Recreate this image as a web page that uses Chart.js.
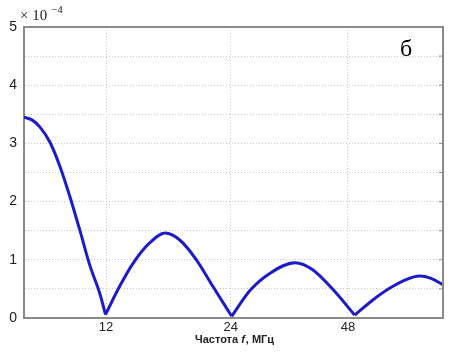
<!DOCTYPE html>
<html>
<head>
<meta charset="utf-8">
<script src="https://cdn.jsdelivr.net/npm/chart.js@4.4.0/dist/chart.umd.min.js"></script>
<style>
    html, body { margin: 0; padding: 0; background: #fff; }
    #wrap { width: 455px; height: 356px; position: relative; }
</style>
</head>
<body>
<div id="wrap"><canvas id="chart" width="455" height="356"></canvas></div>
<script>
// frequency (plot units) and amplitude (x 10^-4)
const freq = [4.1, 4.9, 5.64, 6.6, 7.57, 8.53, 9.49, 10.45, 11.4, 11.95, 13.3, 14.6, 16.2, 17.7, 19.1, 20.7, 22.3, 24.1, 25.9, 27.8, 30.2, 31.9, 33.9, 35.95, 37.7, 39.3, 40.9, 42.2, 43.3, 44.45];
const amp  = [3.45, 3.4, 3.28, 3.02, 2.6, 2.08, 1.5, 0.9, 0.42, 0.06, 0.54, 0.94, 1.29, 1.46, 1.34, 1.0, 0.54, 0.03, 0.48, 0.77, 0.95, 0.83, 0.48, 0.05, 0.31, 0.51, 0.66, 0.72, 0.68, 0.57];
const xTickValues = [12, 24, 35.3];
const xTickLabels = ['12', '24', '48'];
const yTickLabels = ['0', '1', '2', '3', '4', '5'];

// split the curve at the zeros so each lobe is its own smooth piece with sharp minima
function lobes() {
    const out = [];
    let cur = [];
    freq.forEach((f, i) => {
        cur.push({x: f, y: amp[i]});
        const isMin = i > 0 && i < amp.length - 1 && amp[i] < amp[i - 1] && amp[i] < amp[i + 1];
        if (isMin) {
            out.push(cur);
            cur = [{x: f, y: amp[i]}];
        }
    });
    out.push(cur);
    return out;
}

const boxPlugin = {
    id: 'box',
    afterDraw(chart) {
        const {ctx, chartArea: a} = chart;
        ctx.save();
        ctx.strokeStyle = '#8a8a8a';
        ctx.lineWidth = 2;
        ctx.beginPath();
        ctx.moveTo(a.left, a.top);
        ctx.lineTo(a.right, a.top);
        ctx.lineTo(a.right, a.bottom);
        ctx.stroke();
        ctx.lineWidth = 1;
        const ys = chart.scales.y;
        for (let v = 0.5; v < 5; v += 0.5) {
            const py = ys.getPixelForValue(v);
            ctx.beginPath();
            ctx.moveTo(a.right - 4, py);
            ctx.lineTo(a.right, py);
            ctx.stroke();
        }
        // multiplier
        ctx.fillStyle = '#222';
        ctx.textBaseline = 'alphabetic';
        ctx.font = '15px "Liberation Serif", serif';
        ctx.fillText('\u00d7 10', 20, 20);
        ctx.font = '11px "Liberation Serif", serif';
        ctx.fillText('\u22124', 51, 13);
        // panel letter
        ctx.fillStyle = '#000';
        ctx.font = '24px "Liberation Serif", serif';
        ctx.fillText('\u0431', 400, 56);
        // x axis title with italic f
        ctx.fillStyle = '#222';
        const y = 343;
        const p1 = '\u0427\u0430\u0441\u0442\u043e\u0442\u0430 ', p2 = 'f', p3 = ', \u041c\u0413\u0446';
        const fb = 'bold 11px "Liberation Sans", Arial, sans-serif';
        const fi = 'italic bold 11px "Liberation Sans", Arial, sans-serif';
        ctx.font = fb;
        const w1 = ctx.measureText(p1).width, w3 = ctx.measureText(p3).width;
        ctx.font = fi;
        const w2 = ctx.measureText(p2).width;
        let x = 234 - (w1 + w2 + w3) / 2;
        ctx.font = fb; ctx.fillText(p1, x, y); x += w1;
        ctx.font = fi; ctx.fillText(p2, x, y); x += w2 + 1;
        ctx.font = fb; ctx.fillText(p3, x, y);
        ctx.restore();
    }
};

new Chart(document.getElementById('chart'), {
    type: 'line',
    data: {
        datasets: lobes().map(pts => ({
            data: pts,
            borderColor: '#1c1cc8',
            borderWidth: 3,
            pointRadius: 0,
            cubicInterpolationMode: 'monotone',
            fill: false
        }))
    },
    options: {
        responsive: false,
        animation: false,
        layout: {padding: {top: 27, right: 12, left: 0, bottom: 0}},
        plugins: {legend: {display: false}, tooltip: {enabled: false}},
        scales: {
            x: {
                type: 'linear',
                min: 4.1,
                max: 44.45,
                afterBuildTicks: axis => {
                    axis.ticks = xTickValues.map(v => ({value: v}));
                },
                afterFit: axis => { axis.height = 38; },
                ticks: {
                    callback: (v, i) => xTickLabels[i],
                    color: '#222',
                    font: {family: '"Liberation Sans", Arial, sans-serif', size: 13},
                    padding: 2,
                    maxRotation: 0
                },
                grid: {color: '#c8c8c8', drawTicks: false, tickLength: 0},
                border: {display: true, color: '#8a8a8a', width: 2, dash: [1, 2]}
            },
            y: {
                min: 0,
                max: 5,
                afterBuildTicks: axis => {
                    const t = [];
                    for (let v = 0; v <= 5; v += 0.5) t.push({value: v});
                    axis.ticks = t;
                },
                afterFit: axis => { axis.width = 24; },
                ticks: {
                    callback: v => Number.isInteger(v) ? yTickLabels[v] : '',
                    color: '#222',
                    font: {family: '"Liberation Sans", Arial, sans-serif', size: 14},
                    padding: 7
                },
                grid: {color: '#c8c8c8', drawTicks: false, tickLength: 0},
                border: {display: true, color: '#8a8a8a', width: 2, dash: [1, 2]}
            }
        }
    },
    plugins: [boxPlugin]
});
</script>
</body>
</html>
